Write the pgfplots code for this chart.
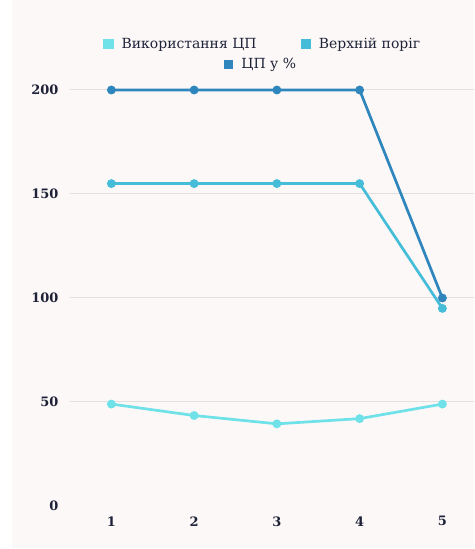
\documentclass[border=0pt]{standalone}
\usepackage{fontspec}
\setmainfont{DejaVu Serif}
\usepackage{pgfplots}
\pgfplotsset{compat=1.18}
\definecolor{bg}{HTML}{FCF8F7}
\definecolor{cA}{HTML}{6EE2E8}
\definecolor{cB}{HTML}{45BCD8}
\definecolor{cC}{HTML}{2E86BC}
\definecolor{gridc}{HTML}{E3DFDE}
\definecolor{txt}{HTML}{1E2238}
\pgfplotsset{
  sqlegend/.style={legend image code/.code={\fill[##1] (0bp,-4bp) rectangle (8bp,4bp); \path[draw=none,fill=none] (0bp,0bp) -- (15bp,0bp);}},
  base/.style={
    at={(70bp,43bp)}, anchor=south west,
    scale only axis, width=404bp, height=436.8bp,
    xmin=0.5, xmax=5.382, ymin=0, ymax=210,
  },
}
\begin{document}
\begin{tikzpicture}[x=1bp,y=1bp]
\fill[white] (0,0) rectangle (474,549);
\fill[bg] (12,1) rectangle (474,549);
\begin{axis}[base,
  axis line style={draw=none}, tick style={draw=none},
  ytick={50,100,150,200}, extra y ticks={0}, extra y tick style={grid=none},
  xtick={1,2,3,4,5},
  ymajorgrids, grid style={gridc, line width=1bp},
  /pgf/number format/assume math mode=true,
  tick label style={font=\fontsize{13}{15}\selectfont\bfseries, text=txt},
  yticklabel style={xshift=-8bp},
  xticklabel style={yshift=-7bp},
  sqlegend,
  legend columns=2,
  legend style={at={(axis description cs:0.477,1.058)}, anchor=center, draw=none, fill=none,
    font=\fontsize{14}{16}\selectfont, text=txt,
    /tikz/every even column/.append style={column sep=42bp}},
  every axis plot/.append style={line width=2.7bp, mark=*, mark size=3bp},
]
\addplot[cA, mark options={fill=cA, draw=cA}] coordinates {(1,49) (2,43.5) (3,39.5) (4,42) (5,49)};
\addlegendentry{Використання ЦП}
\addplot[cB, mark options={fill=cB, draw=cB}] coordinates {(1,155) (2,155) (3,155) (4,155) (5,95)};
\addlegendentry{Верхній поріг}
\addplot[cC, mark options={fill=cC, draw=cC}] coordinates {(1,200) (2,200) (3,200) (4,200) (5,100)};
\end{axis}
\begin{axis}[base, hide axis, sqlegend,
  legend style={at={(axis description cs:0.473,1.012)}, anchor=center, draw=none, fill=none,
    font=\fontsize{14}{16}\selectfont, text=txt}]
\addlegendimage{cC}
\addlegendentry{ЦП у \%}
\end{axis}
\end{tikzpicture}
\end{document}
